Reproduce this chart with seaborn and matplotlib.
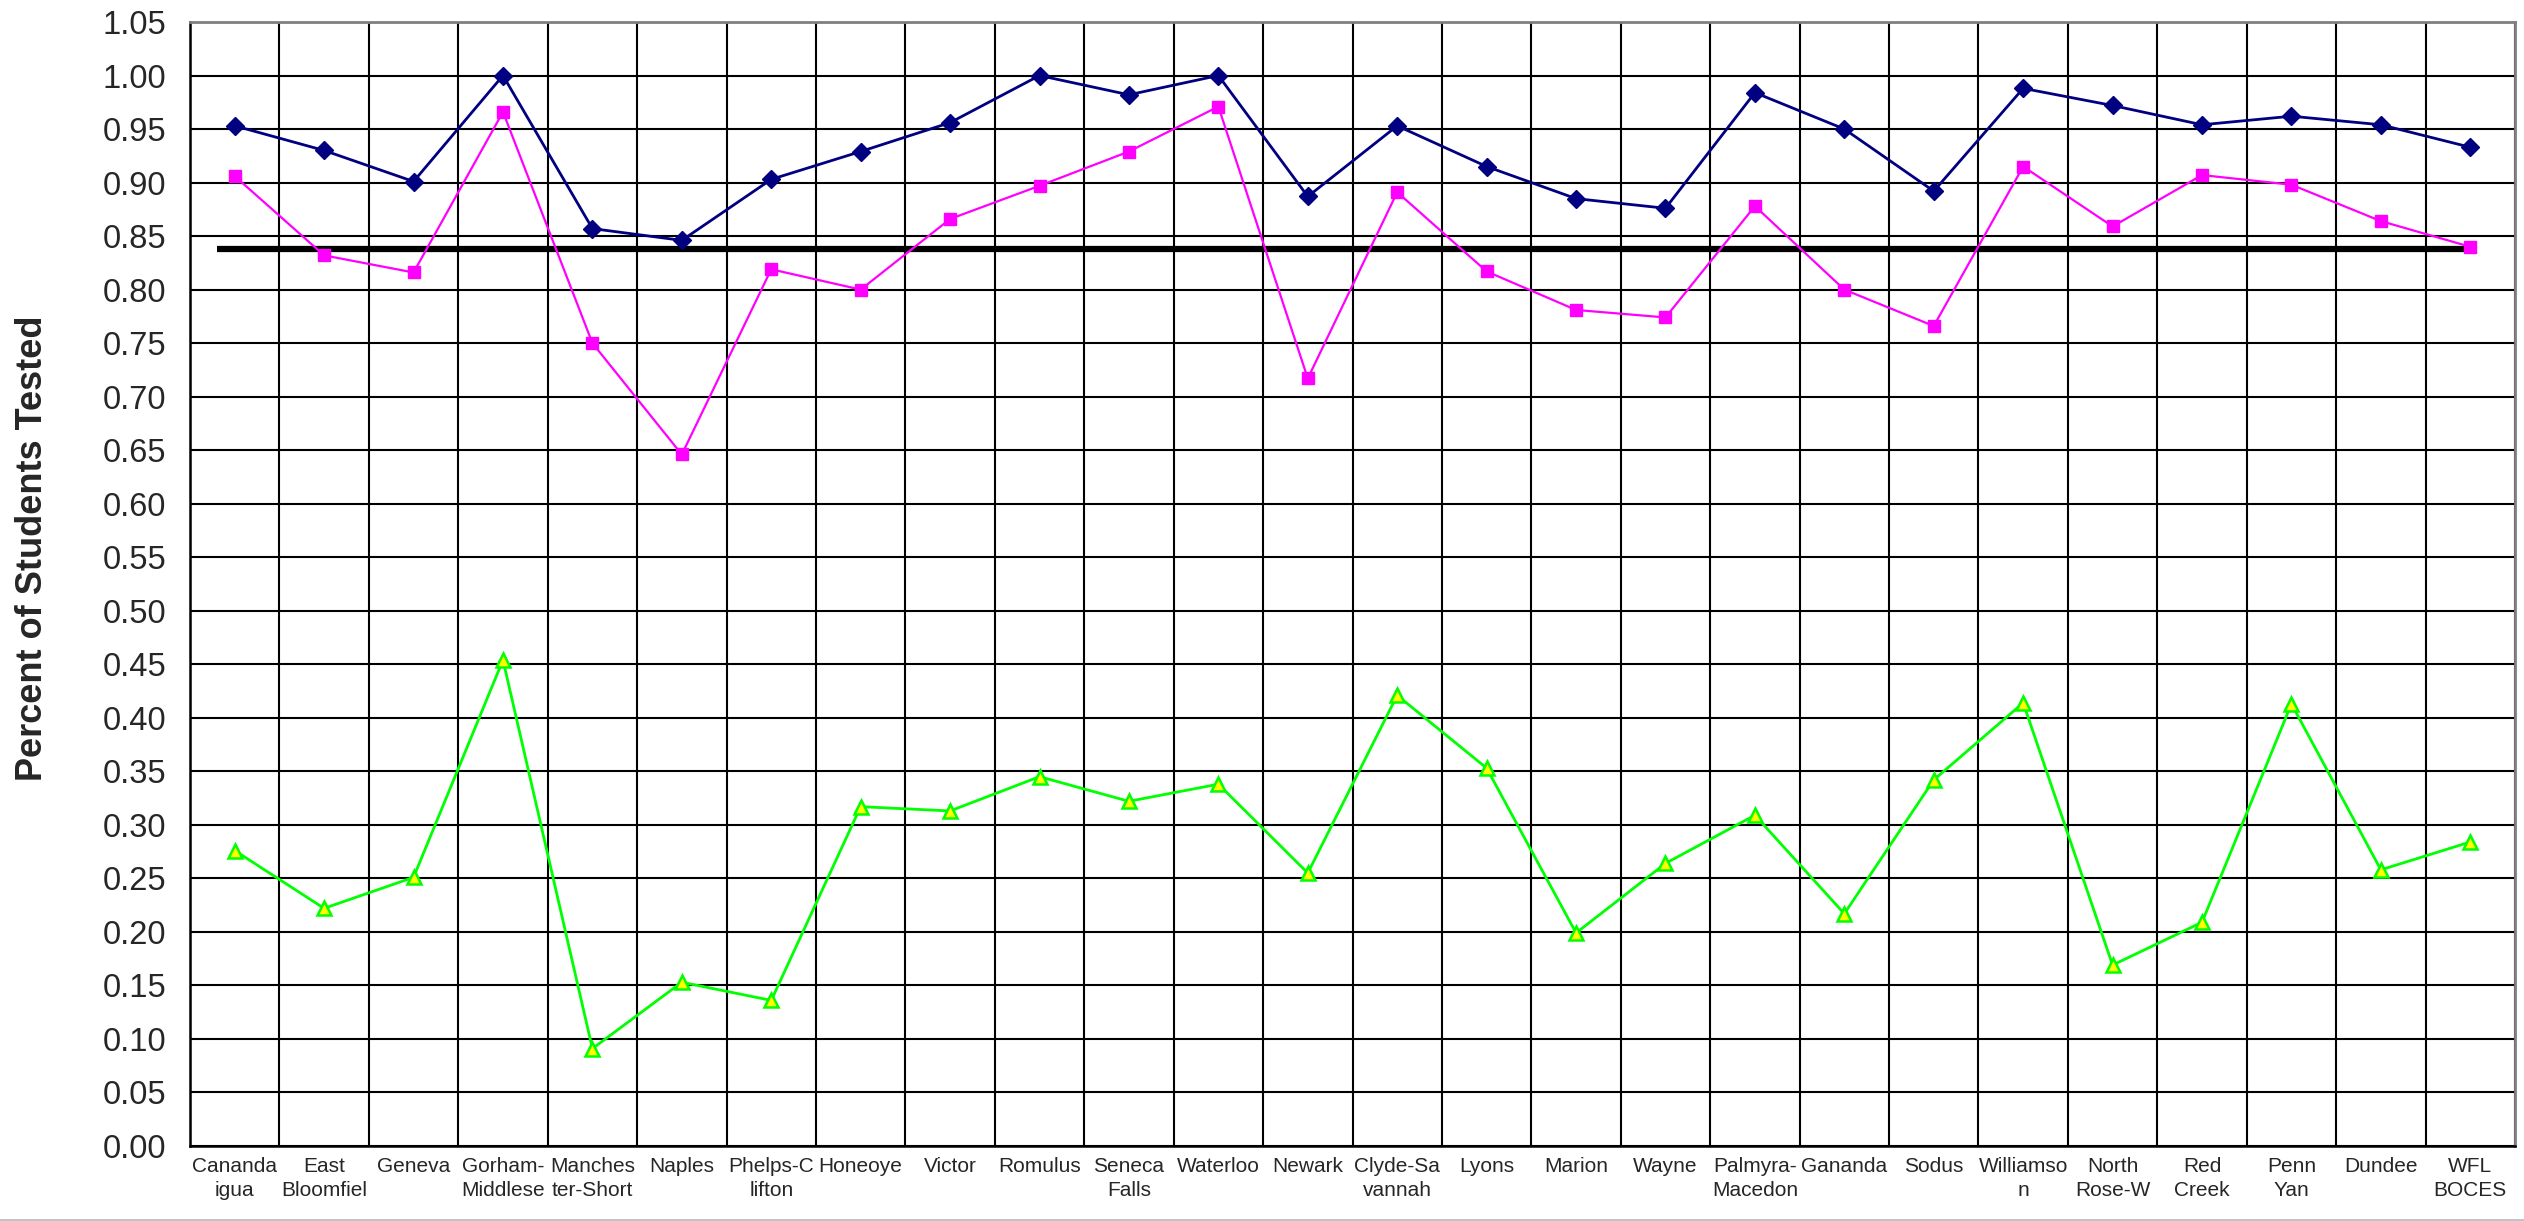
import numpy as np
import pandas as pd
import matplotlib
matplotlib.use("Agg")
import matplotlib.pyplot as plt
from matplotlib.lines import Line2D
from matplotlib.ticker import MultipleLocator, FormatStrFormatter
import seaborn as sns

# ---------------- data ----------------
categories = ["Canandaigua", "East Bloomfield", "Geneva", "Gorham-Middlesex",
              "Manchester-Shortsville", "Naples", "Phelps-Clifton Springs", "Honeoye",
              "Victor", "Romulus", "Seneca Falls", "Waterloo", "Newark",
              "Clyde-Savannah", "Lyons", "Marion", "Wayne", "Palmyra-Macedon",
              "Gananda", "Sodus", "Williamson", "North Rose-Wolcott", "Red Creek",
              "Penn Yan", "Dundee", "WFL BOCES"]

tick_labels = ["Cananda\nigua", "East\nBloomfiel", "Geneva", "Gorham-\nMiddlese",
               "Manches\nter-Short", "Naples", "Phelps-C\nlifton", "Honeoye",
               "Victor", "Romulus", "Seneca\nFalls", "Waterloo", "Newark",
               "Clyde-Sa\nvannah", "Lyons", "Marion", "Wayne", "Palmyra-\nMacedon",
               "Gananda", "Sodus", "Williamso\nn", "North\nRose-W", "Red\nCreek",
               "Penn\nYan", "Dundee", "WFL\nBOCES"]

series_navy = [0.953, 0.930, 0.901, 1.000, 0.857, 0.846, 0.903, 0.929, 0.956,
               1.000, 0.982, 1.000, 0.887, 0.953, 0.915, 0.885, 0.876, 0.984,
               0.950, 0.892, 0.988, 0.972, 0.954, 0.962, 0.954, 0.933]

series_pink = [0.906, 0.832, 0.816, 0.966, 0.750, 0.646, 0.819, 0.800, 0.866,
               0.897, 0.929, 0.971, 0.717, 0.891, 0.817, 0.781, 0.774, 0.878,
               0.800, 0.766, 0.915, 0.859, 0.907, 0.898, 0.864, 0.840]

series_green = [0.276, 0.222, 0.251, 0.454, 0.091, 0.153, 0.136, 0.317, 0.313,
                0.345, 0.322, 0.338, 0.255, 0.421, 0.353, 0.199, 0.264, 0.309,
                0.217, 0.342, 0.414, 0.169, 0.209, 0.413, 0.258, 0.284]

target_value = 0.838

y_label = "Percent of Students Tested"

# ---------------- style ----------------
sns.set_style("white")
plt.rcParams["font.family"] = ["Liberation Sans", "DejaVu Sans"]

W, H = 2524, 1221
fig = plt.figure(figsize=(W / 100, H / 100), dpi=100)
left, right, top, bottom = 190, 2515, 22, 1146
ax = fig.add_axes([left / W, 1 - bottom / H, (right - left) / W, (bottom - top) / H])

df = pd.DataFrame({"category": categories, "navy": series_navy,
                   "pink": series_pink, "green": series_green})

sns.lineplot(data=df, x="category", y="navy", sort=False, ax=ax, color="#000080",
             linewidth=2.0, marker="D", markersize=9, markeredgecolor="#000080",
             markerfacecolor="#000080", markeredgewidth=1, zorder=4)
sns.lineplot(data=df, x="category", y="pink", sort=False, ax=ax, color="#FF00FF",
             linewidth=1.6, marker="s", markersize=8.5, markeredgecolor="#FF00FF",
             markerfacecolor="#FF00FF", markeredgewidth=1, zorder=4)
sns.lineplot(data=df, x="category", y="green", sort=False, ax=ax, color="#00FF00",
             linewidth=2.0, marker="^", markersize=10.5, markeredgecolor="#00FF00",
             markerfacecolor="#FFFF00", markeredgewidth=1.8, zorder=4)

n = len(categories)
ax.hlines(target_value, -0.2, n - 1, color="black", linewidth=4.5, zorder=3)

# ---------------- axes ----------------
ax.set_xlim(-0.5, n - 0.5)
ax.set_ylim(0, 1.05)
ax.yaxis.set_major_locator(MultipleLocator(0.05))
ax.yaxis.set_major_formatter(FormatStrFormatter("%.2f"))

ax.set_xticks(np.arange(n))
ax.set_xticklabels(tick_labels, fontsize=15, linespacing=1.3)
ax.set_xticks(np.arange(n + 1) - 0.5, minor=True)
ax.tick_params(axis="x", which="major", length=0, pad=8)
ax.tick_params(axis="x", which="minor", length=54, width=1.5, color="black",
               direction="out")
ax.tick_params(axis="y", which="major", length=5, width=1.5, color="black",
               direction="out", labelsize=23.5, pad=12)

ax.grid(which="major", axis="y", color="black", linewidth=1.5)
ax.grid(which="minor", axis="x", color="black", linewidth=1.5)
ax.grid(which="major", axis="x", visible=False)
ax.set_axisbelow(True)

ax.set_xlabel("")
ax.set_ylabel("")
for s in ["left", "bottom"]:
    ax.spines[s].set_color("black")
    ax.spines[s].set_linewidth(1.8)
for s in ["top", "right"]:
    ax.spines[s].set_color("#808080")
    ax.spines[s].set_linewidth(2)

fig.text(33 / W, 1 - 548 / H, y_label, rotation=90, ha="center", va="center",
         fontsize=26, fontweight="bold")

fig.add_artist(Line2D([0, 1], [1.5 / H, 1.5 / H], transform=fig.transFigure,
                      color="#b8b8b8", linewidth=1.2))

fig.savefig("out.png", dpi=100)
